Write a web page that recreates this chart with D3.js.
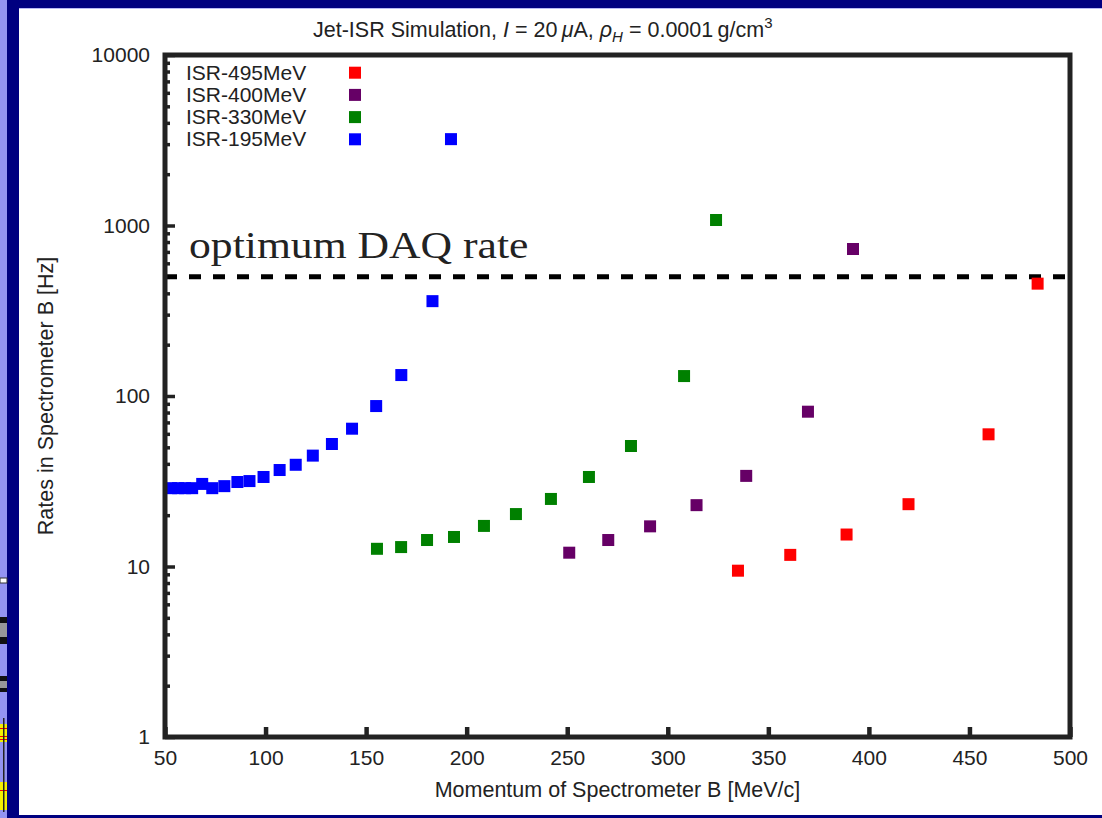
<!DOCTYPE html>
<html>
<head>
<meta charset="utf-8">
<script src="https://d3js.org/d3.v7.min.js"></script>
<style>
  body { margin: 0; background: #000080; }
  svg { display: block; }
  text { font-family: "Liberation Sans", Arial, sans-serif; fill: #222; }
</style>
</head>
<body>
<svg id="chart" width="1102" height="818"></svg>
<script>
// x axis ticks and y axis decades
var xTicks = [50, 100, 150, 200, 250, 300, 350, 400, 450, 500];
var yTicks = [1, 10, 100, 1000, 10000];

// series (momentum MeV/c, rate Hz)
var isr495X = [334.9, 360.9, 388.9, 419.7, 459.5, 483.9];
var isr495Y = [9.45, 11.7, 15.4, 23.2, 59.6, 456];

var isr400X = [251.0, 270.4, 291.2, 314.3, 339.0, 369.7, 392.1];
var isr400Y = [12.05, 14.3, 17.2, 22.9, 34.0, 80.9, 728];

var isr330X = [155.4, 167.4, 180.3, 193.7, 208.6, 224.5, 241.9, 260.8, 281.7, 308.1, 324.0];
var isr330Y = [12.7, 13.0, 14.3, 14.9, 17.3, 20.3, 24.9, 33.5, 50.9, 130.9, 1077];

var isr195X = [53, 56.5, 60, 63.5, 68.5, 73.5, 79.5, 86, 92, 99, 107, 115, 123.5, 133, 143, 155, 167.5, 183, 192.2];
var isr195Y = [28.8, 28.8, 28.8, 28.8, 30.5, 28.8, 29.6, 31.3, 31.7, 33.5, 36.8, 39.5, 44.7, 52.3, 64.3, 87.3, 132.7, 360, 3210];

var seriesNames = ["ISR-495MeV", "ISR-400MeV", "ISR-330MeV", "ISR-195MeV"];
var seriesColors = ["#ff0000", "#660066", "#008000", "#0000ff"];
var daqRate = 500;

var series = [
  {name: seriesNames[0], color: seriesColors[0], xs: isr495X, ys: isr495Y},
  {name: seriesNames[1], color: seriesColors[1], xs: isr400X, ys: isr400Y},
  {name: seriesNames[2], color: seriesColors[2], xs: isr330X, ys: isr330Y},
  {name: seriesNames[3], color: seriesColors[3], xs: isr195X, ys: isr195Y}
];

var svg = d3.select("#chart");

// slide background around the picture
svg.append("rect").attr("width", 1102).attr("height", 818).attr("fill", "#000080");
svg.append("rect").attr("width", 7).attr("height", 818).attr("fill", "#9494f2");
svg.append("rect").attr("x", 19).attr("y", 8).attr("width", 1083).attr("height", 1).attr("fill", "#b8b8f4");
svg.append("rect").attr("x", 19).attr("y", 9).attr("width", 1083).attr("height", 806).attr("fill", "#fff");

// bits of the slide that peek out on the left edge
var deco = svg.append("g");
deco.append("rect").attr("x", 0).attr("y", 578).attr("width", 7).attr("height", 5).attr("fill", "#fff").attr("stroke", "#333").attr("stroke-width", 1);
deco.append("rect").attr("x", 0).attr("y", 617).attr("width", 7).attr("height", 27).attr("fill", "#111");
deco.append("rect").attr("x", 0).attr("y", 623).attr("width", 7).attr("height", 14).attr("fill", "#999");
deco.append("rect").attr("x", 0).attr("y", 676).attr("width", 7).attr("height", 16).attr("fill", "#111");
deco.append("rect").attr("x", 0).attr("y", 681).attr("width", 7).attr("height", 7).attr("fill", "#999");
deco.append("rect").attr("x", 0).attr("y", 724).attr("width", 7).attr("height", 18).attr("fill", "#f4f000");
deco.append("rect").attr("x", 0).attr("y", 782).attr("width", 7).attr("height", 28).attr("fill", "#f4f000");
[728, 736, 739, 790].forEach(function(v) {
  deco.append("rect").attr("x", 0).attr("y", v).attr("width", 7).attr("height", 1).attr("fill", "#e00");
});
deco.append("rect").attr("x", 3).attr("y", 718).attr("width", 1.5).attr("height", 94).attr("fill", "#222");

var plotLeft = 165, plotRight = 1070, plotTop = 55, plotBottom = 737;

var x = d3.scaleLinear().domain([50, 500]).range([plotLeft, plotRight]);
var y = d3.scaleLog().domain([1, 10000]).range([plotBottom, plotTop]);

// y axis: labels on decades, minor ticks on every step
var yAxis = svg.append("g")
  .attr("transform", "translate(" + plotLeft + ",0)")
  .call(d3.axisLeft(y)
    .tickValues(y.ticks())
    .tickFormat(function(d) { return yTicks.indexOf(d) >= 0 ? d : ""; })
    .tickSizeInner(-10)
    .tickSizeOuter(0)
    .tickPadding(15));
yAxis.select(".domain").remove();
yAxis.selectAll(".tick line")
  .attr("stroke", "#222")
  .attr("stroke-width", 3.5)
  .attr("x2", function(d) { return yTicks.indexOf(d) >= 0 ? 10 : 5; });
yAxis.selectAll(".tick text")
  .style("font-size", "21px")
  .attr("fill", "#222");

var xAxis = svg.append("g")
  .attr("transform", "translate(0," + plotBottom + ")")
  .call(d3.axisBottom(x)
    .tickValues(xTicks)
    .tickSizeInner(-10)
    .tickSizeOuter(0)
    .tickPadding(13));
xAxis.select(".domain").remove();
xAxis.selectAll(".tick line").attr("stroke", "#222").attr("stroke-width", 4.5);
xAxis.selectAll(".tick text").style("font-size", "21px").attr("fill", "#222");

// optimum DAQ rate line
svg.append("line")
  .attr("x1", plotLeft).attr("x2", plotRight)
  .attr("y1", y(daqRate)).attr("y2", y(daqRate))
  .attr("stroke", "#000")
  .attr("stroke-width", 5)
  .attr("stroke-dasharray", "12,12");

svg.append("text")
  .attr("transform", "translate(189,258) scale(1.18,1)")
  .style("font-family", "'Liberation Serif', 'Times New Roman', serif")
  .style("font-size", "37px")
  .attr("fill", "#000")
  .text("optimum DAQ rate");

// points
var ms = 12;
series.forEach(function(s) {
  var pts = s.xs.map(function(v, i) { return {x: v, y: s.ys[i]}; });
  svg.append("g").selectAll("rect")
    .data(pts)
    .enter()
    .append("rect")
    .attr("x", function(d) { return x(d.x) - ms / 2; })
    .attr("y", function(d) { return y(d.y) - ms / 2; })
    .attr("width", ms)
    .attr("height", ms)
    .attr("fill", s.color);
});

// frame
svg.append("rect")
  .attr("x", plotLeft).attr("y", plotTop)
  .attr("width", plotRight - plotLeft).attr("height", plotBottom - plotTop)
  .attr("fill", "none")
  .attr("stroke", "#222")
  .attr("stroke-width", 5);

// legend
var legend = svg.append("g").selectAll("g")
  .data(series)
  .enter()
  .append("g")
  .attr("transform", function(d, i) { return "translate(0," + (72.7 + i * 22.2) + ")"; });
legend.append("text")
  .attr("x", 186).attr("y", 7)
  .style("font-size", "21px")
  .text(function(d) { return d.name; });
legend.append("rect")
  .attr("x", 355 - ms / 2).attr("y", -ms / 2)
  .attr("width", ms).attr("height", ms)
  .attr("fill", function(d) { return d.color; });

// title
var title = svg.append("text")
  .attr("x", 313).attr("y", 37)
  .style("font-size", "21.5px");
title.append("tspan").text("Jet-ISR Simulation, ");
title.append("tspan").style("font-style", "italic").text("I");
title.append("tspan").text(" = 20\u2009");
title.append("tspan").style("font-style", "italic").text("\u03bc");
title.append("tspan").text("A, ");
title.append("tspan").style("font-style", "italic").text("\u03c1");
title.append("tspan").style("font-style", "italic").style("font-size", "15px").attr("dy", 5).text("H");
title.append("tspan").attr("dy", -5).text(" = 0.0001\u2009g/cm");
title.append("tspan").style("font-size", "15px").attr("dy", -9).text("3");

// axis titles
svg.append("text")
  .attr("x", (plotLeft + plotRight) / 2).attr("y", 797)
  .attr("text-anchor", "middle")
  .style("font-size", "21.5px")
  .text("Momentum of Spectrometer B [MeV/c]");

svg.append("text")
  .attr("transform", "translate(53," + ((plotTop + plotBottom) / 2) + ") rotate(-90)")
  .attr("text-anchor", "middle")
  .style("font-size", "21.5px")
  .text("Rates in Spectrometer B [Hz]");
</script>
</body>
</html>
